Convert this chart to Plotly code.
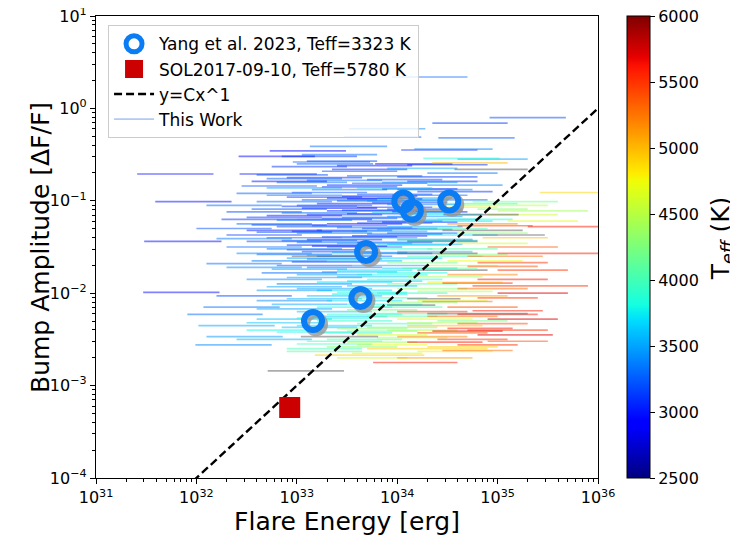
import numpy as np
import plotly.graph_objects as go

# ---------------- data ----------------
# each segment: (log10 E_low [erg], log10 E_high [erg], log10 amplitude, Teff [K])
cool_m_dwarfs = [
    (33.95, 34.70, 0.34, 3300), (34.92, 35.68, -0.10, 3200), (34.35, 35.10, -0.16, 3150),
    (33.47, 34.24, -0.31, 3300), (34.41, 35.17, -0.32, 3250), (33.13, 33.90, -0.41, 3300),
    (34.04, 34.80, -0.45, 3050), (32.73, 33.49, -0.46, 2950), (33.05, 33.80, -0.50, 3300),
    (32.42, 33.18, -0.52, 2900), (32.85, 33.60, -0.52, 3100), (32.96, 33.73, -0.58, 3250),
    (33.10, 33.80, -0.57, 3200), (33.78, 34.55, -0.60, 3000), (34.10, 34.90, -0.61, 3050),
    (33.00, 33.76, -0.60, 3300), (33.40, 34.15, -0.62, 3000), (33.25, 34.00, -0.68, 3200),
    (31.41, 32.17, -0.71, 2950), (32.43, 33.20, -0.71, 2950), (32.60, 33.31, -0.72, 3200),
    (33.50, 34.25, -0.73, 3300), (34.00, 34.80, -0.74, 3150), (32.90, 33.65, -0.75, 3050),
    (32.70, 33.45, -0.76, 3250), (33.70, 34.45, -0.77, 3200), (33.10, 33.85, -0.78, 3300),
    (34.10, 34.80, -0.79, 3100), (32.80, 33.50, -0.80, 3300), (33.55, 34.30, -0.81, 3250),
    (33.30, 34.05, -0.83, 3100), (32.45, 33.20, -0.84, 3200), (33.15, 33.90, -0.88, 3300),
    (34.20, 34.95, -0.90, 3100), (32.95, 33.70, -0.91, 3200), (33.60, 34.35, -0.93, 3200),
    (33.95, 34.70, -0.94, 3300), (32.90, 33.65, -0.96, 3150), (33.30, 34.05, -0.97, 3100),
    (33.50, 34.25, -0.98, 3000), (34.20, 34.90, -0.99, 3300), (31.59, 32.35, -1.01, 2950),
    (32.60, 33.35, -1.01, 3300), (33.40, 34.15, -1.00, 3250), (33.20, 33.95, -1.03, 3000),
    (33.00, 33.75, -1.05, 3200), (33.60, 34.35, -1.07, 3100), (33.05, 33.80, -1.08, 2950),
    (32.55, 33.30, -1.09, 3250), (33.90, 34.65, -1.09, 3200), (33.30, 34.05, -1.11, 3050),
    (32.30, 33.05, -1.12, 3200), (32.85, 33.60, -1.13, 3300), (33.50, 34.25, -1.14, 3050),
    (33.10, 33.85, -1.15, 3100), (32.50, 33.25, -1.18, 3150), (33.45, 34.20, -1.18, 3300),
    (32.25, 33.00, -1.20, 3100), (33.00, 33.75, -1.20, 3000), (33.70, 34.45, -1.22, 3200),
    (33.30, 34.05, -1.25, 2950), (33.60, 34.35, -1.24, 3150), (33.15, 33.90, -1.27, 3250),
    (32.80, 33.55, -1.28, 3200), (32.00, 32.75, -1.30, 3200), (33.65, 34.40, -1.30, 3100),
    (32.50, 33.25, -1.32, 3000), (33.20, 33.95, -1.32, 3200), (32.60, 33.35, -1.34, 3200),
    (32.30, 33.05, -1.37, 3100), (33.55, 34.30, -1.38, 3000), (32.70, 33.45, -1.40, 3250),
    (33.10, 33.85, -1.42, 3000), (34.00, 34.75, -1.42, 3300), (31.48, 32.25, -1.44, 2950),
    (32.50, 33.25, -1.44, 3200), (33.00, 33.75, -1.45, 3300), (32.90, 33.65, -1.48, 3100),
    (32.30, 33.05, -1.50, 3300), (33.30, 34.05, -1.50, 3250), (32.90, 33.65, -1.53, 3150),
    (33.05, 33.80, -1.55, 3150), (32.60, 33.35, -1.58, 3250), (33.20, 33.95, -1.60, 3300),
    (33.10, 33.85, -1.63, 3200), (32.80, 33.55, -1.70, 3200), (31.47, 32.23, -1.99, 2950),
    (32.20, 32.95, -2.03, 3200),
    (32.75, 33.50, -0.63, 3100), (33.35, 34.10, -0.66, 3050), (32.55, 33.30, -0.79, 3000),
    (33.25, 34.00, -0.85, 3150), (33.85, 34.60, -0.87, 3050), (32.40, 33.15, -0.92, 3250),
    (33.45, 34.20, -0.95, 3050), (33.05, 33.80, -0.99, 3300), (33.75, 34.50, -1.02, 3150),
    (32.85, 33.60, -1.06, 3100), (33.45, 34.20, -1.10, 3200), (33.95, 34.70, -1.12, 3050),
    (32.70, 33.45, -1.16, 3000), (33.25, 34.00, -1.19, 3200), (33.85, 34.60, -1.23, 3100),
    (32.55, 33.30, -1.26, 3100), (33.40, 34.15, -1.29, 3300), (32.95, 33.70, -1.33, 3050),
    (33.70, 34.45, -1.36, 3250), (33.25, 34.00, -1.39, 3150), (32.85, 33.60, -1.43, 3250),
    (33.60, 34.35, -1.45, 3200), (33.15, 33.90, -1.49, 3000), (33.60, 34.35, -1.57, 3200),
    (32.95, 33.70, -1.66, 3100),
]
warm_m_dwarfs = [
    (33.52, 34.28, -0.22, 3400), (34.17, 34.95, -0.44, 3400), (34.60, 35.30, -0.55, 3500),
    (34.26, 35.02, -0.54, 3850), (33.90, 34.60, -0.65, 3500), (34.30, 35.00, -0.70, 3350),
    (33.85, 34.60, -0.80, 3400), (34.30, 35.05, -0.83, 3400), (32.70, 33.45, -0.86, 3500),
    (33.60, 34.35, -0.86, 3700), (34.00, 34.75, -0.88, 3350), (32.70, 33.45, -0.94, 3350),
    (33.80, 34.55, -0.97, 3500), (32.10, 32.85, -1.05, 3300), (33.90, 34.60, -1.04, 3350),
    (33.75, 34.50, -1.13, 3600), (34.10, 34.85, -1.15, 3700), (33.90, 34.65, -1.17, 3400),
    (32.80, 33.55, -1.21, 3350), (34.20, 34.95, -1.22, 3750), (32.40, 33.15, -1.25, 3300),
    (33.90, 34.65, -1.28, 3500), (33.80, 34.55, -1.31, 3450), (33.00, 33.75, -1.35, 3400),
    (33.90, 34.60, -1.35, 3300), (34.30, 35.00, -1.37, 3700), (33.45, 34.20, -1.40, 3450),
    (32.20, 32.95, -1.41, 3350), (33.40, 34.15, -1.46, 3500), (33.90, 34.65, -1.47, 3550),
    (33.80, 34.55, -1.48, 3700), (32.70, 33.45, -1.52, 3350), (34.00, 34.75, -1.55, 3600),
    (33.35, 34.10, -1.56, 3450), (32.40, 33.15, -1.57, 3400), (32.90, 33.65, -1.62, 3500),
    (33.70, 34.45, -1.62, 3700), (32.55, 33.30, -1.65, 3350), (33.30, 34.05, -1.65, 3600),
    (32.10, 32.85, -1.68, 3300), (33.55, 34.30, -1.70, 3450), (32.30, 33.05, -1.72, 3400),
    (33.10, 33.85, -1.72, 3300), (32.75, 33.50, -1.74, 3500), (33.40, 34.15, -1.75, 3700),
    (33.25, 34.00, -1.77, 3550), (32.65, 33.40, -1.78, 3300), (33.00, 33.75, -1.80, 3500),
    (33.40, 34.15, -1.82, 3600), (32.90, 33.65, -1.83, 3450), (32.50, 33.25, -1.85, 3400),
    (33.50, 34.25, -1.87, 3650), (33.20, 33.95, -1.88, 3700), (32.80, 33.55, -1.90, 3350),
    (33.50, 34.20, -1.92, 3600), (32.70, 33.45, -1.93, 3500), (33.00, 33.75, -1.95, 3500),
    (33.20, 33.95, -1.97, 3700), (33.10, 33.85, -2.03, 3600), (32.90, 33.65, -2.06, 3550),
    (32.60, 33.35, -2.08, 3400), (33.30, 34.05, -2.08, 3700), (32.07, 32.83, -2.15, 3350),
    (32.60, 33.35, -2.17, 3500), (33.00, 33.75, -2.20, 3600), (31.91, 32.66, -2.23, 3300),
    (32.60, 33.35, -2.28, 3600), (32.50, 33.25, -2.32, 3600), (32.02, 32.78, -2.35, 3500),
    (33.00, 33.75, -2.35, 3700), (32.80, 33.55, -2.42, 3750), (32.10, 32.86, -2.47, 3450),
    (31.99, 32.75, -2.56, 3400),
    (33.70, 34.45, -1.00, 3450), (34.05, 34.80, -1.20, 3600), (33.55, 34.30, -1.33, 3500),
    (34.10, 34.80, -1.43, 3650), (33.10, 33.85, -1.59, 3550), (33.85, 34.60, -1.73, 3650),
    (32.60, 33.35, -1.97, 3450), (33.35, 34.10, -2.01, 3750), (32.75, 33.50, -2.12, 3500),
    (33.15, 33.90, -2.25, 3650), (32.85, 33.60, -2.37, 3600), (32.40, 33.15, -2.50, 3550),
]
k_dwarfs = [
    (34.75, 35.60, -1.01, 4200), (34.45, 35.20, -1.03, 3900), (34.60, 35.50, -1.05, 4500),
    (34.80, 35.30, -1.09, 4300), (35.00, 35.90, -1.11, 4400), (34.90, 35.60, -1.15, 4600),
    (34.40, 35.15, -1.20, 3850), (35.10, 35.80, -1.22, 4700), (34.20, 34.90, -1.30, 4000),
    (34.60, 35.30, -1.35, 4300), (34.60, 35.30, -1.46, 4600), (33.60, 34.35, -1.52, 3900),
    (34.30, 35.00, -1.52, 4100), (34.10, 34.85, -1.60, 4000), (34.50, 35.25, -1.65, 4700),
    (33.90, 34.60, -1.67, 4200), (34.30, 35.00, -1.70, 4500), (33.80, 34.50, -1.78, 3800),
    (34.10, 34.85, -1.82, 4400), (33.70, 34.45, -1.85, 3900), (34.30, 35.05, -1.88, 4800),
    (33.90, 34.60, -1.90, 4100), (34.00, 34.70, -1.95, 4300), (33.40, 34.10, -1.99, 3800),
    (33.80, 34.50, -2.00, 3900), (33.60, 34.30, -2.05, 4000), (34.20, 34.90, -2.08, 4600),
    (33.90, 34.60, -2.10, 4300), (33.50, 34.25, -2.12, 3800), (33.20, 33.95, -2.15, 3800),
    (33.50, 34.20, -2.18, 4200), (33.80, 34.50, -2.22, 4000), (33.30, 34.05, -2.23, 3900),
    (33.70, 34.40, -2.25, 4100), (33.00, 33.75, -2.27, 3800), (34.00, 34.75, -2.28, 4700),
    (33.20, 33.95, -2.30, 3900), (34.40, 35.10, -2.30, 4200), (33.60, 34.35, -2.33, 4000),
    (33.70, 34.40, -2.37, 4200), (33.40, 34.10, -2.38, 4300), (32.50, 33.25, -2.40, 3800),
    (33.90, 34.60, -2.40, 4500), (33.20, 33.95, -2.43, 3900), (33.60, 34.30, -2.45, 4600),
    (33.30, 34.05, -2.50, 4100), (33.10, 33.85, -2.52, 3950), (33.50, 34.20, -2.53, 4400),
    (33.60, 34.30, -2.56, 4700), (33.30, 34.00, -2.58, 4300), (32.90, 33.65, -2.60, 4000),
    (32.90, 33.65, -2.63, 4100), (34.20, 34.95, -2.63, 4800), (33.40, 34.10, -2.70, 4600),
    (34.00, 34.75, -1.42, 3950), (34.40, 35.10, -1.58, 4300), (34.05, 34.80, -1.73, 4100),
    (33.60, 34.30, -1.80, 3850), (34.20, 34.95, -1.98, 4500), (33.75, 34.45, -2.15, 4050),
    (34.10, 34.80, -2.32, 4400), (33.50, 34.20, -2.41, 4200), (33.80, 34.50, -2.48, 4500),
    (33.00, 33.75, -2.55, 4000), (34.30, 35.00, -2.58, 4900), (33.55, 34.25, -2.65, 4500),
]
gk_stars = [
    (34.35, 35.10, -0.59, 5000), (35.42, 36.20, -0.91, 4900), (34.35, 35.00, -1.07, 4800),
    (34.50, 35.20, -1.25, 5200), (34.60, 35.35, -1.27, 5500), (35.30, 36.00, -1.28, 5600),
    (34.85, 35.50, -1.40, 5000), (34.90, 35.60, -1.50, 5400), (35.00, 36.00, -1.57, 5600),
    (34.70, 35.45, -1.60, 5300), (34.80, 35.50, -1.67, 5500), (35.00, 35.70, -1.75, 5500),
    (34.50, 35.20, -1.80, 5200), (34.80, 35.50, -1.85, 5600), (34.75, 35.90, -1.92, 5500),
    (34.60, 35.30, -1.95, 5300), (34.40, 35.10, -2.03, 5100), (34.80, 35.40, -2.05, 5500),
    (34.50, 35.20, -2.15, 5400), (34.00, 34.70, -2.20, 5500), (34.60, 35.40, -2.23, 5600),
    (34.30, 35.00, -2.25, 5300), (34.90, 35.60, -2.28, 5700), (34.60, 35.30, -2.33, 5400),
    (34.10, 34.85, -2.35, 5000), (34.50, 35.15, -2.38, 5600), (34.70, 35.50, -2.40, 5500),
    (34.20, 34.90, -2.43, 5400), (34.80, 35.55, -2.45, 5700), (34.00, 34.70, -2.47, 5200),
    (34.40, 35.10, -2.50, 5500), (34.10, 34.85, -2.53, 5600), (34.60, 35.20, -2.56, 5500),
    (33.70, 34.90, -2.60, 4900), (33.18, 34.27, -2.67, 4900), (34.00, 34.75, -2.70, 5100),
    (33.76, 34.60, -2.75, 5600),
    (34.70, 35.40, -1.71, 5400), (34.45, 35.15, -1.89, 5500), (35.00, 35.70, -2.00, 5700),
    (34.25, 34.95, -2.09, 5300), (34.75, 35.45, -2.19, 5600), (34.35, 35.05, -2.41, 5700),
    (34.90, 35.50, -2.52, 5400), (34.45, 35.15, -2.62, 5300),
]
# segments without a Teff (drawn grey)
no_teff = [
    (34.57, 35.30, -0.66), (34.05, 34.65, -1.11), (34.46, 35.21, -1.15), (34.45, 35.25, -1.32),
    (34.75, 35.47, -1.37), (34.10, 34.80, -1.44), (34.00, 34.80, -1.57), (32.95, 33.60, -1.60),
    (34.20, 34.90, -1.75), (34.10, 34.63, -2.06), (33.90, 34.38, -2.13), (34.30, 35.30, -2.22),
    (33.04, 33.81, -2.47), (32.71, 33.47, -2.84),
]

yang_energy = [1.45e33, 4.3e33, 4.9e33, 1.15e34, 1.4e34, 3.3e34]
yang_amplitude = [5.0e-3, 8.9e-3, 2.8e-2, 9.8e-2, 7.8e-2, 9.8e-2]
sol_energy = [8.5e32]
sol_amplitude = [5.8e-4]
power_law_C = 1e-36
power_law_energy = [1e31, 1e36]

x_decades = [31, 32, 33, 34, 35, 36]
y_decades = [-4, -3, -2, -1, 0, 1]
teff_min, teff_max = 2500, 6000
teff_ticks = [2500, 3000, 3500, 4000, 4500, 5000, 5500, 6000]


# ---------------- matplotlib "jet" ----------------
def jet(v):
    v = min(max(v, 0.0), 1.0)
    r = np.interp(v, [0, 0.35, 0.66, 0.89, 1], [0, 0, 1, 1, 0.5])
    g = np.interp(v, [0, 0.125, 0.375, 0.64, 0.91, 1], [0, 0, 1, 1, 0, 0])
    b = np.interp(v, [0, 0.11, 0.34, 0.65, 1], [0.5, 1, 1, 0, 0])
    return int(round(r * 255)), int(round(g * 255)), int(round(b * 255))


jet_scale = []
for v in np.linspace(0, 1, 57):
    r, g, b = jet(v)
    jet_scale.append([float(v), f"rgb({r},{g},{b})"])


def pow_label(d):
    return "10<sup>" + (str(d) if d >= 0 else "\u2212" + str(-d)) + "</sup>"


def minor_vals(decades):
    out = []
    for d in decades[:-1]:
        out += [k * 10.0 ** d for k in range(2, 10)]
    return out


fig = go.Figure()

# horizontal energy ranges ("This Work")
for group in (cool_m_dwarfs, warm_m_dwarfs, k_dwarfs, gk_stars):
    for lo, hi, la, t in group:
        r, g, b = jet((t - teff_min) / (teff_max - teff_min))
        fig.add_trace(go.Scatter(
            x=[10 ** lo, 10 ** hi], y=[10 ** la, 10 ** la], mode="lines",
            line=dict(color=f"rgba({r},{g},{b},0.5)", width=1.7),
            showlegend=False, hoverinfo="skip"))
for lo, hi, la in no_teff:
    fig.add_trace(go.Scatter(
        x=[10 ** lo, 10 ** hi], y=[10 ** la, 10 ** la], mode="lines",
        line=dict(color="rgba(90,90,90,0.5)", width=1.7),
        showlegend=False, hoverinfo="skip"))

# power law
pl_y = [power_law_C * e for e in power_law_energy]
fig.add_trace(go.Scatter(
    x=power_law_energy, y=pl_y, mode="lines", name="y=Cx^1",
    line=dict(color="black", width=2.4, dash="8px,4px"), legendrank=3))

# legend-only entry for the segments
fig.add_trace(go.Scatter(
    x=[None], y=[None], mode="lines", name="This Work",
    line=dict(color="rgba(100,149,237,0.5)", width=1.7), legendrank=4))

# Yang et al. shadow + markers
fig.add_trace(go.Scatter(
    x=[e * 10 ** 0.03 for e in yang_energy], y=[a * 10 ** -0.035 for a in yang_amplitude],
    mode="markers", showlegend=False, hoverinfo="skip",
    marker=dict(symbol="circle-open", size=18, color="rgba(150,150,150,0.8)",
                line=dict(width=6))))
fig.add_trace(go.Scatter(
    x=yang_energy, y=yang_amplitude, mode="markers", name="Yang et al. 2023, Teff=3323 K",
    marker=dict(symbol="circle-open", size=18, color="rgb(10,125,245)", line=dict(width=6)),
    legendrank=1))

# SOL2017-09-10
fig.add_trace(go.Scatter(
    x=sol_energy, y=sol_amplitude, mode="markers", name="SOL2017-09-10, Teff=5780 K",
    marker=dict(symbol="square", size=19, color="rgb(204,0,0)",
                line=dict(width=2, color="rgb(204,0,0)")),
    legendrank=2))

# colourbar
fig.add_trace(go.Scatter(
    x=[None], y=[None], mode="markers", showlegend=False, hoverinfo="skip",
    marker=dict(color=[teff_min, teff_max], cmin=teff_min, cmax=teff_max,
                colorscale=jet_scale, showscale=True,
                colorbar=dict(
                    x=1.058, xanchor="left", xpad=0, y=0.5, len=1, lenmode="fraction",
                    ypad=0, thickness=23, outlinecolor="black", outlinewidth=1,
                    tickmode="array", tickvals=teff_ticks, ticks="outside", ticklen=5,
                    tickwidth=1.2, tickcolor="black", ticklabeloverflow="allow",
                    tickfont=dict(size=16, color="black")))))

axis_common = dict(
    type="log", showgrid=False, zeroline=False, showline=True, linecolor="black",
    linewidth=1.2, mirror=True, ticks="outside", ticklen=5, tickwidth=1.2,
    tickcolor="black", tickmode="array", ticklabeloverflow="allow",
    tickfont=dict(size=16, color="black"),
)
fig.update_xaxes(range=[31, 36],
                 tickvals=[10.0 ** d for d in x_decades],
                 ticktext=[pow_label(d) for d in x_decades],
                 minor=dict(tickvals=minor_vals(x_decades), ticks="outside", ticklen=3,
                            tickwidth=1, tickcolor="black", showgrid=False),
                 title=dict(text="Flare Energy [erg]", font=dict(size=25, color="black"), standoff=6),
                 **axis_common)
fig.update_yaxes(range=[-4, 1],
                 tickvals=[10.0 ** d for d in y_decades],
                 ticktext=[pow_label(d) for d in y_decades],
                 minor=dict(tickvals=minor_vals(y_decades), ticks="outside", ticklen=3,
                            tickwidth=1, tickcolor="black", showgrid=False),
                 **axis_common)

fig.add_annotation(text="Bump Amplitude [ΔF/F]", xref="paper", yref="paper",
                   x=-0.1116, y=0.5, xanchor="center", yanchor="middle", textangle=-90,
                   showarrow=False, font=dict(size=25, color="black"))
fig.add_annotation(text="T<sub><i>eff</i></sub> (K)", xref="paper", yref="paper",
                   x=1.246, y=0.52, xanchor="center", yanchor="middle", textangle=-90,
                   showarrow=False, font=dict(size=25, color="black"))

# the page body has an 8px margin, so the figure is 8px smaller and offset
fig.update_layout(
    width=730, height=536,
    margin=dict(l=88, r=140, t=8, b=66, autoexpand=False),
    paper_bgcolor="white", plot_bgcolor="white",
    font=dict(family="DejaVu Sans", color="black"),
    legend=dict(x=0.024, y=0.98, xanchor="left", yanchor="top",
                bgcolor="rgba(255,255,255,0.8)", bordercolor="rgb(204,204,204)", borderwidth=1,
                font=dict(size=17, color="black"), itemwidth=40, tracegroupgap=0),
)

fig.write_html("out.html")
